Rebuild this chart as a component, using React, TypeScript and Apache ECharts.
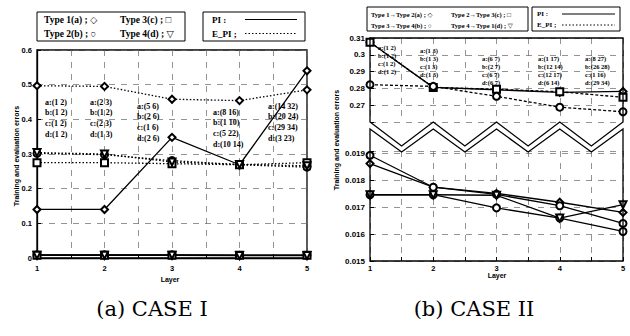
import React, { useEffect, useRef } from "react";
import * as echarts from "echarts";

// ---------- data ----------
const layers = [1, 2, 3, 4, 5];

// CASE I
const caseI_PI_a = [0.14, 0.14, 0.348, 0.269, 0.54];
const caseI_PI_b = [0.009, 0.009, 0.009, 0.008, 0.008];
const caseI_PI_c = [0.008, 0.008, 0.008, 0.008, 0.008];
const caseI_PI_d = [0.008, 0.008, 0.008, 0.007, 0.007];
const caseI_EPI_a = [0.497, 0.495, 0.458, 0.454, 0.485];
const caseI_EPI_b = [0.302, 0.298, 0.281, 0.269, 0.262];
const caseI_EPI_c = [0.275, 0.275, 0.272, 0.269, 0.275];
const caseI_EPI_d = [0.304, 0.3, 0.277, 0.27, 0.266];

// CASE II, upper part (broken axis 0.26 - 0.31)
const caseII_upper_solid = [0.3075, 0.2806, 0.2792, 0.2776, 0.2782];
const caseII_upper_dashB = [0.2822, 0.2812, 0.2753, 0.2688, 0.2661];
const caseII_upper_dashC = [0.3075, 0.2806, 0.2795, 0.278, 0.2747];

// CASE II, lower part (0.015 - 0.019)
const caseII_PI_a = [0.01863, 0.01775, 0.01752, 0.01719, 0.01681];
const caseII_PI_b = [0.01894, 0.01775, 0.01748, 0.01706, 0.0164];
const caseII_PI_c = [0.01747, 0.01747, 0.01698, 0.0166, 0.0161];
const caseII_PI_d = [0.01747, 0.01747, 0.01745, 0.0166, 0.0171];

// tick labels
const caseI_yTicks = [0, 0.1, 0.2, 0.3, 0.4, 0.5, 0.6];
const caseII_upperTicks = ["0.27", "0.28", "0.29", "0.3", "0.31"];
const caseII_lowerTicks = ["0.015", "0.016", "0.017", "0.018", "0.019"];

// annotation texts (one list per layer column)
const caseI_notes1 = ["a:(1 2)", "b:(1 2)", "c:(1 2)", "d:(1 2)"];
const caseI_notes2 = ["a:(2 3)", "b:(1 2)", "c:(2 3)", "d:(1 3)"];
const caseI_notes3 = ["a:(5 6)", "b:(2 6)", "c:(1 6)", "d:(2 6)"];
const caseI_notes4 = ["a:(8 16)", "b:(1 10)", "c:(5 22)", "d:(10 14)"];
const caseI_notes5 = ["a:(14 32)", "b:(20 24)", "c:(29 34)", "d:(3 23)"];
const caseII_notes1 = ["a:(1 2)", "b:(1 2)", "c:(1 2)", "d:(1 2)"];
const caseII_notes2 = ["a:(1 3)", "b:(1 3)", "c:(1 3)", "d:(1 3)"];
const caseII_notes3 = ["a:(6 7)", "b:(2 7)", "c:(6 7)", "d:(6 7)"];
const caseII_notes4 = ["a:(1 17)", "b:(12 14)", "c:(12 17)", "d:(6 14)"];
const caseII_notes5 = ["a:(8 27)", "b:(26 28)", "c:(1 16)", "d:(29 34)"];

const caseI_legend = ["Type 1(a) ; \u25C7", "Type 3(c) ; \u25A1", "Type 2(b) ; \u25CB", "Type 4(d) ; \u25BD"];
const caseII_legend = [
  "Type 1\u2192Type 2(a) ; \u25C7",
  "Type 2\u2192Type 3(c) ; \u25A1",
  "Type 3\u2192Type 4(b) ; \u25CB",
  "Type 4\u2192Type 1(d) ; \u25BD",
];

// ---------- layout ----------
const L = { x0: 37, x1: 307, y0: 50, y1: 258 };
const RU = { x0: 370, x1: 623, y0: 38, y1: 122, min: 0.26, max: 0.31 };
const RL = { x0: 370, x1: 623, y0: 151, y1: 261, min: 0.015, max: 0.0191 };
const ZIG_A = { peak: 122, trough: 146 };
const ZIG_B = { peak: 129, trough: 152 };

const SERIF = '"Liberation Serif", "DejaVu Serif", serif';
const SANS = '"Liberation Sans", "DejaVu Sans", sans-serif';

function txt(text: string, x: number, y: number, o: any = {}) {
  const align = o.align || "left";
  const va = o.va || "middle";
  return {
    type: "text",
    x,
    y,
    rotation: o.rotation || 0,
    silent: true,
    z: 20,
    style: {
      text,
      fill: "#000",
      fontSize: o.size || 8,
      fontFamily: o.family || SERIF,
      fontWeight: o.weight || "bold",
      align,
      verticalAlign: va,
      textAlign: align,
      textVerticalAlign: va,
    },
  };
}

function mkLine(data: number[], gi: number, symbol: string, dashed: any, rotate = 0) {
  return {
    type: "line",
    xAxisIndex: gi,
    yAxisIndex: gi,
    data: layers.map((l, i) => [l, data[i]]),
    symbol,
    symbolSize: 7,
    symbolRotate: rotate,
    showSymbol: true,
    lineStyle: { color: "#000", width: 1.3, type: dashed || "solid" },
    itemStyle: { color: "#000", borderWidth: 1.4 },
    z: 5,
  };
}

const gridLine = { show: true, lineStyle: { color: "#666", width: 0.7, type: [6, 6] } };
const tickIn = { show: true, inside: true, length: 4, lineStyle: { color: "#000" } };
const lblFont = { fontSize: 7.5, fontWeight: "bold", fontFamily: SANS, color: "#000" };
const intLabel = (v: number) => (Math.abs(v - Math.round(v)) < 1e-9 ? String(Math.round(v)) : "");
const pickTick = (ticks: number[], digits: number) => (v: number) => {
  const hit = ticks.find((t) => Math.abs(t - v) < 1e-7);
  return hit === undefined ? "" : String(+hit.toFixed(digits));
};

// value -> pixel along a right-panel y axis (same linear map as the grid)
const yPix = (g: any, v: number) => g.y1 - ((v - g.min) / (g.max - g.min)) * (g.y1 - g.y0);

function zig(x0: number, x1: number, peak: number, trough: number) {
  const pts: number[][] = [];
  for (let k = 0; k <= 8; k++) pts.push([x0 + (k * (x1 - x0)) / 8, k % 2 === 0 ? peak : trough]);
  return pts;
}

function noteBlock(notes: string[], x: number, y: number, dy: number, size: number) {
  return notes.map((s, i) => txt(s, x, y + i * dy, { size }));
}

export default function App() {
  const ref = useRef<HTMLDivElement>(null);
  useEffect(() => {
    if (!ref.current) return;
    const chart = echarts.init(ref.current, undefined, { renderer: "svg" });

    const dotted = [1.5, 2];
    const dashed = [3, 2];

    const series = [
      mkLine(caseI_PI_a, 0, "emptyDiamond", null),
      mkLine(caseI_PI_b, 0, "emptyCircle", null),
      mkLine(caseI_PI_c, 0, "emptyRect", null),
      mkLine(caseI_PI_d, 0, "emptyTriangle", null, 180),
      mkLine(caseI_EPI_a, 0, "emptyDiamond", dotted),
      mkLine(caseI_EPI_b, 0, "emptyCircle", dotted),
      mkLine(caseI_EPI_c, 0, "emptyRect", dotted),
      mkLine(caseI_EPI_d, 0, "emptyTriangle", dotted, 180),
      mkLine(caseII_upper_solid, 1, "emptyDiamond", null),
      mkLine(caseII_upper_dashC, 1, "emptyRect", dashed),
      mkLine(caseII_upper_dashB, 1, "emptyCircle", dashed),
      mkLine(caseII_PI_a, 2, "emptyDiamond", null),
      mkLine(caseII_PI_b, 2, "emptyCircle", null),
      mkLine(caseII_PI_c, 2, "emptyCircle", null),
      mkLine(caseII_PI_d, 2, "emptyTriangle", null, 180),
    ];

    const upperFrame = [
      [RU.x0, ZIG_A.peak],
      [RU.x0, RU.y0],
      [RU.x1, RU.y0],
      ...zig(RU.x0, RU.x1, ZIG_A.peak, ZIG_A.trough).reverse(),
    ];
    const lowerFrame = [...zig(RL.x0, RL.x1, ZIG_B.peak, ZIG_B.trough), [RL.x1, RL.y1], [RL.x0, RL.y1]];

    const rightLabels = [
      ...caseII_upperTicks.map((s) => txt(s, RU.x0 - 5, yPix(RU, Number(s)), { size: 8, family: SANS, align: "right" })),
      ...caseII_lowerTicks.map((s) => txt(s, RL.x0 - 5, yPix(RL, Number(s)), { size: 8, family: SANS, align: "right" })),
    ];

    const graphic: any[] = [
      { type: "polygon", shape: { points: upperFrame }, style: { fill: "none", stroke: "#000", lineWidth: 1.3 }, z: 10, silent: true },
      { type: "polygon", shape: { points: lowerFrame }, style: { fill: "none", stroke: "#000", lineWidth: 1.3 }, z: 10, silent: true },
      ...rightLabels,
      // left legends
      { type: "rect", shape: { x: 37, y: 12, width: 148, height: 29 }, style: { fill: "#fff", stroke: "#000", lineWidth: 1 }, z: 15 },
      { type: "rect", shape: { x: 203, y: 12, width: 102, height: 29 }, style: { fill: "#fff", stroke: "#000", lineWidth: 1 }, z: 15 },
      txt(caseI_legend[0], 44, 19.5, { size: 9.5 }),
      txt(caseI_legend[1], 120, 19.5, { size: 9.5 }),
      txt(caseI_legend[2], 44, 33.5, { size: 9.5 }),
      txt(caseI_legend[3], 120, 33.5, { size: 9.5 }),
      txt("PI :", 212, 19.5, { size: 9 }),
      txt("E_PI ;", 212, 33.5, { size: 9 }),
      { type: "line", shape: { x1: 245, y1: 19.5, x2: 297, y2: 19.5 }, style: { stroke: "#000", lineWidth: 1.2 }, z: 20 },
      { type: "line", shape: { x1: 245, y1: 33.5, x2: 297, y2: 33.5 }, style: { stroke: "#000", lineWidth: 1, lineDash: [1.5, 2] }, z: 20 },
      // right legends
      { type: "rect", shape: { x: 367, y: 7, width: 161, height: 24 }, style: { fill: "#fff", stroke: "#000", lineWidth: 1 }, z: 15 },
      { type: "rect", shape: { x: 532, y: 7, width: 88, height: 24 }, style: { fill: "#fff", stroke: "#000", lineWidth: 1 }, z: 15 },
      txt(caseII_legend[0], 371, 14, { size: 6.5 }),
      txt(caseII_legend[1], 451, 14, { size: 6.5 }),
      txt(caseII_legend[2], 371, 25, { size: 6.5 }),
      txt(caseII_legend[3], 451, 25, { size: 6.5 }),
      txt("PI :", 537, 14, { size: 7 }),
      txt("E_PI ;", 537, 25, { size: 7 }),
      { type: "line", shape: { x1: 562, y1: 14, x2: 615, y2: 14 }, style: { stroke: "#000", lineWidth: 1.2 }, z: 20 },
      { type: "line", shape: { x1: 562, y1: 25, x2: 615, y2: 25 }, style: { stroke: "#000", lineWidth: 1, lineDash: [1.5, 2] }, z: 20 },
      // annotations CASE I
      ...noteBlock(caseI_notes1, 45, 102, 10.7, 8),
      ...noteBlock(caseI_notes2, 90, 102, 10.7, 8),
      ...noteBlock(caseI_notes3, 137, 106, 10.7, 8),
      ...noteBlock(caseI_notes4, 213, 112, 10.7, 8),
      ...noteBlock(caseI_notes5, 268, 106, 10.7, 8),
      // annotations CASE II
      ...noteBlock(caseII_notes1, 378, 47, 8.2, 6.5),
      ...noteBlock(caseII_notes2, 420, 50, 8.2, 6.5),
      ...noteBlock(caseII_notes3, 482, 58, 8.2, 6.5),
      ...noteBlock(caseII_notes4, 538, 58, 8.2, 6.5),
      ...noteBlock(caseII_notes5, 585, 58, 8.2, 6.5),
      // axis titles
      txt("Training and evaluation errors", 16, 156, { size: 7, family: SANS, align: "center", rotation: Math.PI / 2 }),
      txt("Training and evaluation errors", 336, 140, { size: 7, family: SANS, align: "center", rotation: Math.PI / 2 }),
      txt("Layer", 170, 279, { size: 7, family: SANS, align: "center" }),
      txt("Layer", 497, 275, { size: 7, family: SANS, align: "center" }),
      // captions
      txt("(a) CASE I", 152, 309, { size: 21, family: '"DejaVu Serif", serif', weight: "normal", align: "center" }),
      txt("(b) CASE II", 474, 309, { size: 21, family: '"DejaVu Serif", serif', weight: "normal", align: "center" }),
    ];

    chart.setOption({
      animation: false,
      backgroundColor: "#fff",
      grid: [
        { left: L.x0, top: L.y0, width: L.x1 - L.x0, height: L.y1 - L.y0, show: true, borderColor: "#000", borderWidth: 1.3, backgroundColor: "transparent" },
        { left: RU.x0, top: RU.y0, width: RU.x1 - RU.x0, height: RU.y1 - RU.y0 },
        { left: RL.x0, top: RL.y0, width: RL.x1 - RL.x0, height: RL.y1 - RL.y0 },
      ],
      xAxis: [
        { gridIndex: 0, type: "value", min: 1, max: 5, interval: 0.5, axisLine: { lineStyle: { color: "#000", width: 1.3 } }, axisTick: tickIn, axisLabel: { ...lblFont, margin: 6, formatter: intLabel }, splitLine: gridLine },
        { gridIndex: 1, type: "value", min: 1, max: 5, interval: 0.5, axisLine: { show: false }, axisTick: { show: false }, axisLabel: { show: false }, splitLine: gridLine },
        { gridIndex: 2, type: "value", min: 1, max: 5, interval: 0.5, axisLine: { show: false }, axisTick: tickIn, axisLabel: { ...lblFont, margin: 3, formatter: intLabel }, splitLine: gridLine },
      ],
      yAxis: [
        { gridIndex: 0, type: "value", min: 0, max: 0.6, interval: 0.1, axisLine: { lineStyle: { color: "#000", width: 1.3 } }, axisTick: tickIn, axisLabel: { ...lblFont, margin: 5, formatter: pickTick(caseI_yTicks, 1) }, splitLine: gridLine },
        { gridIndex: 1, type: "value", min: RU.min, max: RU.max, interval: 0.01, axisLine: { show: false }, axisTick: tickIn, axisLabel: { show: false }, splitLine: gridLine },
        { gridIndex: 2, type: "value", min: RL.min, max: RL.max, interval: 0.001, axisLine: { show: false }, axisTick: tickIn, axisLabel: { show: false }, splitLine: gridLine },
      ],
      series,
      graphic,
    });
    return () => chart.dispose();
  }, []);
  return <div ref={ref} style={{ position: "absolute", left: 0, top: 0, width: 630, height: 336, background: "#fff" }} />;
}
